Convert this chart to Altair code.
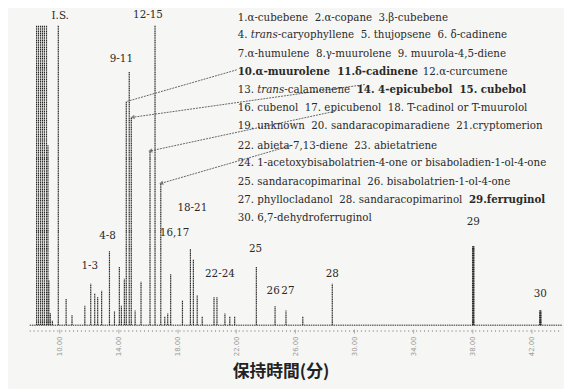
import math
import altair as alt
import pandas as pd

# ---------------- data ----------------
# retention time (min) and peak height (% of plotted full scale; >100 = clipped)
peak_time = [8.47, 8.60, 8.74, 8.87, 9.00, 9.14, 9.24, 9.30, 9.40, 9.54,
             9.94, 10.47, 10.87, 11.74, 12.14, 12.41, 12.61, 12.88, 13.41, 13.75,
             14.08, 14.22, 14.42, 14.55, 14.75, 14.89, 15.15, 15.55, 16.16,
             16.50, 16.89, 17.16, 17.36, 17.56, 18.36, 18.90, 19.10, 19.36, 19.70,
             20.50, 20.70, 21.24, 21.57, 21.90, 23.37, 24.64, 25.38, 26.52, 28.52,
             38.08, 42.63]
peak_height = [130, 130, 130, 130, 130, 130, 60, 15, 4, 1.5,
               130, 8.9, 3.3, 6.6, 13.8, 10.5, 9.5, 11.5, 24.7, 4.6,
               19.4, 6.6, 15.5, 74.7, 84.5, 69.4, 4.9, 14.5, 58.2,
               130, 47.4, 3.0, 3.9, 17.1, 8.2, 25.3, 22.0, 9.9, 3.0,
               9.5, 9.5, 3.9, 3.0, 3.0, 19.4, 6.3, 4.9, 3.0, 13.8,
               26.3, 4.9]
# the two late, broader peaks (29 and 30)
broad_time = [38.08, 42.63]
broad_height = [26.3, 4.9]

label_text = ["I.S.", "12-15", "9-11", "4-8", "1-3", "16,17", "18-21",
              "22-24", "25", "26", "27", "28", "29", "30"]
label_time = [10.07, 16.02, 14.22, 13.28, 12.08, 17.83, 19.03,
              20.90, 23.31, 24.51, 25.51, 28.52, 38.08, 42.63]
label_height = [103.3, 103.6, 88.8, 29.9, 19.7, 30.9, 39.1,
                17.1, 25.3, 11.5, 11.5, 17.1, 34.5, 10.5]

tick_values = [10, 12, 14, 16, 18, 20, 22, 24, 26, 28, 30, 32, 34, 36, 38, 40, 42, 44]

# arrows: start (in legend) -> end (on peak), in data units
arrow_t0 = [22.04, 30.73, 28.72, 25.71]
arrow_h0 = [85.2, 80.3, 71.4, 59.9]
arrow_t1 = [14.62, 15.02, 16.22, 16.96]
arrow_h1 = [74.7, 69.4, 58.2, 47.4]

SP = "\u00a0 "
# legend text: each line is a list of (text, style) segments
legend_lines = [
    [("1.α-cubebene" + SP + "2.α-copane" + SP + "3.β-cubebene", "n")],
    [("4.\u00a0", "n"), ("trans", "i"), ("-caryophyllene" + SP + "5. thujopsene" + SP + "6. δ-cadinene", "n")],
    [("7.α-humulene" + SP + "8.γ-muurolene" + SP + "9. muurola-4,5-diene", "n")],
    [("10.α-muurolene" + SP + "11.δ-cadinene" + SP, "b"), ("12.α-curcumene", "n")],
    [("13.\u00a0", "n"), ("trans", "i"), ("-calamenene" + SP, "n"), ("14. 4-epicubebol" + SP + "15. cubebol", "b")],
    [("16. cubenol" + SP + "17. epicubenol" + SP + "18. T-cadinol or T-muurolol", "n")],
    [("19. unknown" + SP + "20. sandaracopimaradiene" + SP + "21.cryptomerion", "n")],
    [("22. abieta-7,13-diene" + SP + "23. abietatriene", "n")],
    [("24. 1-acetoxybisabolatrien-4-one or bisaboladien-1-ol-4-one", "n")],
    [("25. sandaracopimarinal" + SP + "26. bisabolatrien-1-ol-4-one", "n")],
    [("27. phyllocladanol" + SP + "28. sandaracopimarinol" + SP, "n"), ("29.ferruginol", "b")],
    [("30. 6,7-dehydroferruginol", "n")],
]

# ---------------- layout ----------------
W, H = 540, 304
T_MIN, T_MAX = 8.0, 44.1
LEG_X = 211
LEG_Y = [-8, 10, 29, 47, 65, 84, 102, 122, 140, 159, 177, 195]
LEG_FS = 10.4
SERIF = "DejaVu Serif"
INK = "#2a2a2a"

# approximate DejaVu Serif advance widths (em) used to chain styled segments
_W = {" ": .318, "\u00a0": .318, ".": .318, ",": .318, "-": .339,
      "a": .595, "b": .641, "c": .56, "d": .641, "e": .591, "f": .372, "g": .641,
      "h": .643, "i": .32, "j": .32, "k": .604, "l": .32, "m": .96, "n": .643,
      "o": .602, "p": .641, "q": .641, "r": .478, "s": .513, "t": .4, "u": .643,
      "v": .569, "w": .82, "x": .569, "y": .569, "z": .525, "T": .683,
      "α": .635, "β": .635, "γ": .57, "δ": .6}


def text_width(s, style):
    w = sum(_W.get(ch, .636) for ch in s) * LEG_FS
    return w * (1.1 if style == "b" else 1.0)


xs = alt.Scale(domain=[T_MIN, T_MAX], nice=False, zero=False)
ys = alt.Scale(domain=[0, 100], nice=False)

peaks = pd.DataFrame({"t": peak_time, "h": peak_height, "z": [0] * len(peak_time)})

peak_layer = alt.Chart(peaks).mark_rule(color=INK, strokeWidth=1.2, clip=True, strokeDash=[1.3, 0.5]).encode(
    x=alt.X("t:Q", scale=xs, axis=alt.Axis(
        values=tick_values, format=".2f", domain=False, grid=False, offset=4,
        tickSize=4, tickColor="#aaaaaa", labelAngle=-90, labelAlign="right",
        labelBaseline="middle", labelFontSize=7, labelColor="#999999",
        labelFont="DejaVu Sans", labelPadding=3, title=None)),
    y=alt.Y("z:Q", scale=ys, axis=None),
    y2="h:Q",
)

broad = alt.Chart(pd.DataFrame({"t": broad_time, "h": broad_height, "z": [0, 0]})).mark_rule(
    color=INK, strokeWidth=2.6, strokeDash=[1.3, 0.5]).encode(
    x=alt.X("t:Q", scale=xs), y=alt.Y("z:Q", scale=ys), y2="h:Q")

baseline = alt.Chart(pd.DataFrame({"t": [T_MIN, T_MAX], "h": [0, 0]})).mark_line(
    color=INK, strokeWidth=1, strokeDash=[1.5, 0.8]).encode(
    x=alt.X("t:Q", scale=xs), y=alt.Y("h:Q", scale=ys))

minor = alt.Chart(pd.DataFrame({"a": [0]})).mark_rule(
    color="#b0b0b0", strokeWidth=2, strokeDash=[1, 3]).encode(
    x=alt.value(0), x2=alt.value(W), y=alt.value(H + 6))

labels = alt.Chart(pd.DataFrame({"t": label_time, "h": label_height, "s": label_text})).mark_text(
    font=SERIF, fontSize=10.5, color=INK, baseline="middle", align="center").encode(
    x=alt.X("t:Q", scale=xs), y=alt.Y("h:Q", scale=ys), text="s:N")

arrow_rows = []
for i in range(len(arrow_t0)):
    arrow_rows.append({"id": i, "o": 0, "t": arrow_t0[i], "h": arrow_h0[i]})
    arrow_rows.append({"id": i, "o": 1, "t": arrow_t1[i], "h": arrow_h1[i]})
arrows = alt.Chart(pd.DataFrame(arrow_rows)).mark_line(
    color="#555555", strokeWidth=0.9, strokeDash=[2, 1]).encode(
    x=alt.X("t:Q", scale=xs), y=alt.Y("h:Q", scale=ys), detail="id:N", order="o:Q")

px_t = W / (T_MAX - T_MIN)
px_h = H / 100.0
heads = []
for i in range(1, len(arrow_t0)):
    dx = (arrow_t1[i] - arrow_t0[i]) * px_t
    dy = -(arrow_h1[i] - arrow_h0[i]) * px_h
    ang = math.degrees(math.atan2(dx, -dy)) % 360
    heads.append({"t": arrow_t1[i], "h": arrow_h1[i], "a": ang})
head_layer = alt.Chart(pd.DataFrame(heads)).mark_point(
    shape="triangle", filled=True, color="#555555", size=22).encode(
    x=alt.X("t:Q", scale=xs), y=alt.Y("h:Q", scale=ys), angle=alt.Angle("a:Q", scale=None))

legend_layers = []
for i, segs in enumerate(legend_lines):
    cx = LEG_X
    for txt, st in segs:
        kw = {}
        if st == "b":
            kw["fontWeight"] = "bold"
        if st == "i":
            kw["fontStyle"] = "italic"
        legend_layers.append(
            alt.Chart(pd.DataFrame({"a": [0]})).mark_text(
                font=SERIF, fontSize=LEG_FS, color=INK, align="left", baseline="middle", **kw).encode(
                x=alt.value(round(cx, 1)), y=alt.value(LEG_Y[i]), text=alt.value(txt)))
        cx += text_width(txt, st)

title = alt.Chart(pd.DataFrame({"a": [0]})).mark_text(
    font="Noto Sans CJK JP", fontSize=17, fontWeight="bold", color="#222222",
    align="center", baseline="middle").encode(
    x=alt.value(255), y=alt.value(352), text=alt.value("保持時間(分)"))

chart = alt.layer(peak_layer, broad, baseline, minor, labels, arrows, head_layer, title, *legend_layers).properties(
    width=W, height=H, autosize="none",
    padding={"left": 22, "top": 15, "right": 2, "bottom": 62},
    background="#f6f6f4",
).configure_view(stroke=None)

chart.save("out.html", embed_options={"renderer": "svg", "actions": False})
